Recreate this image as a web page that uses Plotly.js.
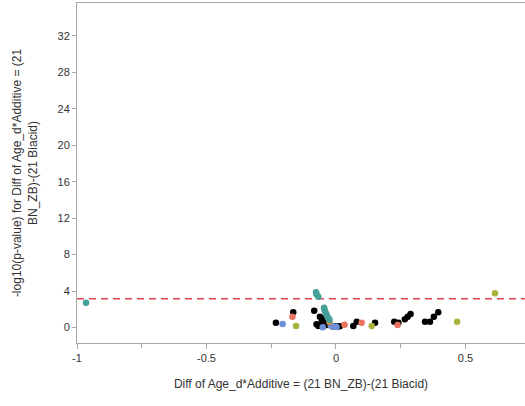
<!DOCTYPE html>
<html>
<head>
<meta charset="utf-8">
<script src="https://cdn.plot.ly/plotly-3.0.1.min.js"></script>
<style>html,body{margin:0;padding:0;background:#fff;}#chart{width:525px;height:406px;}</style>
</head>
<body>
<div id="chart"></div>
<script>
// Difference estimates (x) and -log10(p-value) (y), grouped by marker colour
const blackX = [-0.232, -0.165, -0.084, -0.062, -0.068, -0.055, -0.048, -0.045, -0.040, -0.030, -0.025, -0.015, -0.005, 0.005, 0.015, -0.075, -0.058, 0.067, 0.080, 0.151, 0.225, 0.241, 0.266, 0.277, 0.288, 0.344, 0.363, 0.378, 0.395];
const blackY = [0.53, 1.66, 1.84, 1.18, 0.16, 0.75, 1.00, 0.45, 0.25, 0.60, 0.35, 0.15, 0.10, 0.10, 0.15, 0.35, 0.20, 0.16, 0.64, 0.53, 0.64, 0.53, 0.90, 1.18, 1.48, 0.64, 0.64, 1.18, 1.66];
const tealX = [-0.965, -0.077, -0.075, -0.068, -0.046, -0.044, -0.042, -0.038, -0.034, -0.030, -0.025];
const tealY = [2.72, 3.86, 3.64, 3.38, 2.17, 1.95, 1.75, 1.50, 1.25, 1.05, 0.85];
const blueX = [-0.206, -0.051, -0.020, -0.010, 0.002];
const blueY = [0.38, 0.02, 0.20, 0.10, 0.05];
const redX = [-0.168, 0.033, 0.099, 0.238];
const redY = [1.18, 0.30, 0.53, 0.27];
const oliveX = [-0.154, 0.138, 0.468, 0.614];
const oliveY = [0.16, 0.16, 0.64, 3.75];
const orangeX = [-0.025];
const orangeY = [0.60];
const threshold = 3.16;
const xTickVals = [-1, -0.5, 0, 0.5];
const xTickText = ['-1', '-0.5', '0', '0.5'];
const yTickVals = [0, 4, 8, 12, 16, 20, 24, 28, 32];

function series(x, y, color) {
  return {x: x, y: y, type: 'scatter', mode: 'markers', hoverinfo: 'x+y',
    marker: {color: color, size: 6.5, line: {width: 0}}, showlegend: false};
}
const data = [
  series(blackX, blackY, '#000000'),
  series(redX, redY, '#E8735F'),
  series(oliveX, oliveY, '#A9B23C'),
  series(blueX, blueY, '#6F8FD8'),
  series(orangeX, orangeY, '#C98A4B'),
  series(tealX, tealY, '#44A199')
];
const axisFont = {family: 'Liberation Sans, Arial, sans-serif', size: 11, color: '#333'};
const layout = {
  width: 525, height: 406,
  margin: {l: 77, r: 0, t: 3, b: 63},
  paper_bgcolor: '#fff', plot_bgcolor: '#fff',
  font: axisFont,
  xaxis: {
    range: [-1, 0.73], tickvals: xTickVals, ticktext: xTickText,
    showgrid: false, zeroline: false, showline: true, linecolor: '#A8A8A8', linewidth: 1, mirror: true,
    ticks: 'outside', ticklen: 5, tickcolor: '#A8A8A8',
    minor: {dtick: 0.25, tick0: 0, ticks: 'outside', ticklen: 4, tickcolor: '#A8A8A8', showgrid: false},
    tickfont: axisFont,
    title: {text: 'Diff of Age_d*Additive = (21 BN_ZB)-(21 Biacid)', font: {family: 'Liberation Sans, Arial, sans-serif', size: 12, color: '#333'}, standoff: 16}
  },
  yaxis: {
    range: [-1.7, 35.6], tickvals: yTickVals,
    showgrid: false, zeroline: false, showline: true, linecolor: '#A8A8A8', linewidth: 1,
    ticks: 'outside', ticklen: 4, tickcolor: '#A8A8A8',
    tickfont: axisFont,
    title: {text: '-log10(p-value) for Diff of Age_d*Additive = (21<br>BN_ZB)-(21 Biacid)', font: {family: 'Liberation Sans, Arial, sans-serif', size: 12, color: '#333'}, standoff: 17}
  },
  shapes: [{type: 'line', xref: 'paper', x0: 0, x1: 1, yref: 'y', y0: threshold, y1: threshold,
    line: {color: '#E8404F', width: 1.5, dash: '7px,5px'}, layer: 'below'}]
};
Plotly.newPlot('chart', data, layout, {displayModeBar: false, staticPlot: true});
</script>
</body>
</html>
